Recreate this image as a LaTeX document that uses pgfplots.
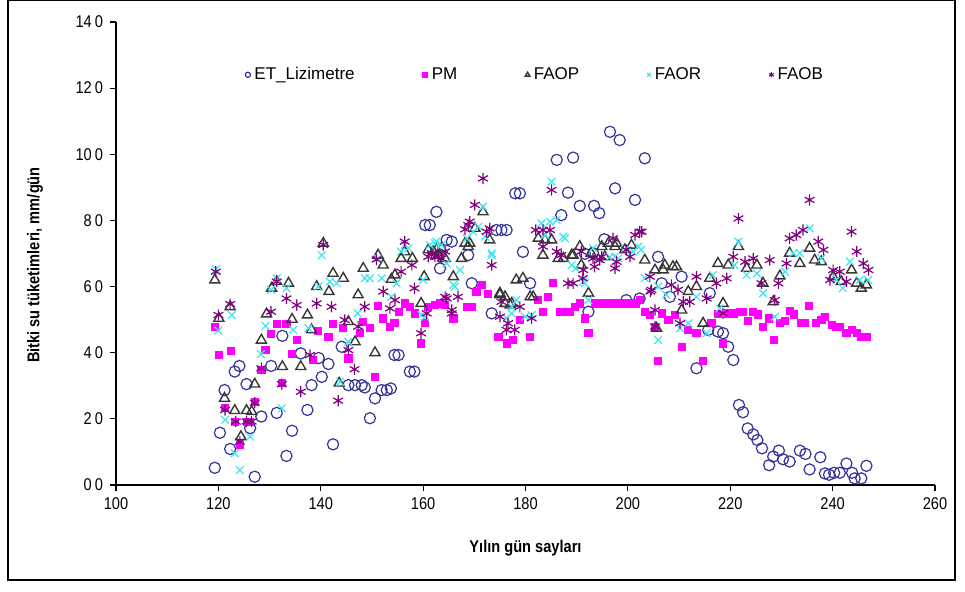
\documentclass[border=0pt]{standalone}
\usepackage{fontspec}
\setmainfont{Liberation Sans}[FakeStretch=0.86]
\newfontfamily\legfont{Liberation Sans}
\usepackage{pgfplots}
\pgfplotsset{compat=1.18}
\definecolor{etc}{RGB}{51,51,153}
\definecolor{pmc}{RGB}{255,0,255}
\definecolor{faopc}{RGB}{55,55,55}
\definecolor{faorc}{RGB}{60,230,240}
\definecolor{faobc}{RGB}{128,0,128}
\begin{document}
\begin{tikzpicture}
\useasboundingbox (0,0) rectangle (482.5pt,295.5pt);
\draw[line width=0.6pt] (4pt,5.5pt) rectangle (477.5pt,295.2pt);
\begin{axis}[
  at={(58pt,53pt)}, anchor=south west,
  scale only axis, width=409.5pt, height=231.5pt,
  xmin=100, xmax=260, ymin=0, ymax=140,
  axis x line=bottom, axis y line=left,
  axis line style={-, line width=0.6pt},
  tick style={line width=0.6pt, black},
  tick align=outside, major tick length=3pt,
  xtick={100,120,...,260},
  ytick={0,20,...,140},
  yticklabels={0\kern1.5pt0,2\kern1.5pt0,4\kern1.5pt0,6\kern1.5pt0,8\kern1.5pt0,10\kern1.5pt0,12\kern1.5pt0,14\kern1.5pt0},
  /pgf/number format/assume math mode=true,
  /pgf/number format/1000 sep={},
  tick label style={font=\fontsize{8.5}{10}\selectfont},
  xlabel={Yılın gün sayları},
  ylabel={Bitki su tüketimleri, mm/gün},
  label style={font=\fontsize{8.5}{10}\selectfont\bfseries},
  xlabel style={at={(axis description cs:0.5,-0.136)}, anchor=center},
  ylabel style={at={(axis description cs:-0.099,0.475)}, anchor=center},
  legend columns=5,
  legend style={draw=none, fill=none, at={(axis description cs:0.513,0.886)}, anchor=center,
    font=\legfont\fontsize{8.5}{10}\selectfont,
    /tikz/every even column/.append style={column sep=32pt},
    /tikz/every odd column/.append style={column sep=0pt}},
  legend image code/.code={\draw[mark repeat=1,#1,mark size=1.3pt] plot coordinates {(0.08cm,0cm)};},
  clip=false,
]
\addplot[only marks, mark=o, mark size=2.8pt, draw=etc, line width=0.6pt] coordinates {
(119.3,5.2)(120.3,15.8)(121.2,28.7)(122.3,10.9)(123.2,34.3)(124.1,36.0)(125.5,30.5)(126.2,17.2)
(127.1,2.5)(128.4,20.7)(130.3,36.0)(131.4,21.8)(132.5,45.1)(133.3,8.8)(134.4,16.4)(136.1,39.8)
(137.4,22.7)(138.2,30.2)(139.6,38.4)(140.2,32.7)(141.5,36.6)(142.4,12.3)(144.1,41.8)(145.4,30.2)
(146.7,30.2)(148.0,30.2)(148.6,29.5)(149.6,20.2)(150.6,26.2)(151.9,28.7)(152.9,28.7)(153.7,29.2)
(154.4,39.3)(155.2,39.3)(157.4,34.3)(158.3,34.3)(160.4,78.6)(161.3,78.6)(162.6,82.6)(163.3,65.5)
(164.6,74.1)(165.6,73.6)(168.8,69.5)(169.5,61.0)(173.4,51.9)(174.3,77.1)(175.3,77.1)(176.3,77.1)
(178.0,88.2)(178.9,88.2)(179.5,70.5)(180.9,61.0)(186.1,98.3)(187.0,81.6)(188.3,88.4)(189.3,99.0)
(190.6,84.4)(191.6,69.9)(192.3,52.4)(193.2,70.1)(193.4,84.4)(194.4,82.2)(195.4,74.3)(196.5,106.8)(197.5,89.7)
(198.4,104.3)(199.7,55.9)(201.4,86.2)(202.3,56.4)(203.3,98.8)(205.9,69.0)(206.6,61.0)(208.2,56.9)
(210.5,63.0)(213.4,35.3)(215.7,46.9)(216.0,58.0)(217.6,46.4)(218.6,45.9)(219.6,41.8)(220.6,37.8)
(221.7,24.2)(222.5,22.0)(223.4,17.1)(224.5,15.3)(225.3,13.6)(226.2,11.1)(227.6,6.0)(228.4,8.6)
(229.5,10.4)(230.3,7.8)(231.6,7.1)(233.6,10.4)(234.7,9.4)(235.5,4.7)(237.6,8.4)(238.5,3.5)
(239.3,3.1)(240.3,3.7)(241.4,3.7)(242.7,6.5)(243.8,3.7)(244.3,2.0)(245.6,2.0)(246.6,5.8)
};
\addlegendentry{ET\_Lizimetre}
\addplot[only marks, mark=square*, mark size=1.8pt, draw=pmc, fill=pmc] coordinates {
(119.3,47.7)(120.1,39.3)(121.2,23.2)(122.5,40.6)(123.2,19.2)(124.2,12.1)(125.5,19.2)(126.2,19.2)
(127.1,25.2)(128.4,34.8)(129.2,40.8)(130.3,45.7)(131.4,48.7)(132.4,30.8)(133.3,48.7)(134.4,39.6)
(135.3,43.8)(138.4,37.8)(139.4,46.7)(141.5,44.8)(142.4,48.7)(144.4,47.4)(145.4,38.3)(147.7,45.9)
(148.3,49.2)(149.6,47.4)(150.6,32.7)(151.2,54.2)(152.2,50.4)(153.5,47.9)(154.4,48.9)(155.2,52.4)
(156.4,54.9)(157.4,53.9)(158.4,51.9)(159.6,42.8)(160.4,48.9)(161.0,53.9)(162.3,54.4)(163.3,54.9)
(164.3,54.4)(165.9,50.4)(168.5,53.9)(169.5,53.9)(170.4,58.5)(171.4,60.5)(172.7,57.8)(174.7,44.8)
(176.3,42.8)(177.6,43.8)(178.9,49.9)(180.9,44.8)(182.5,55.9)(183.4,52.4)(184.4,56.9)(185.4,61.2)
(186.7,52.4)(187.4,52.4)(188.7,52.4)(189.6,53.9)(190.6,54.9)(191.6,50.4)(192.3,45.9)(193.6,54.9)
(194.6,54.9)(195.6,54.9)(196.6,54.9)(197.6,54.9)(198.6,54.9)(199.6,54.9)(200.6,54.9)(201.6,54.9)
(202.3,55.9)(203.3,52.4)(204.3,51.4)(205.3,47.9)(205.9,37.5)(206.6,51.9)(207.9,49.9)(209.2,51.4)
(210.5,41.8)(211.8,46.9)(213.4,46.1)(214.7,37.6)(216.3,48.9)(217.6,51.7)(218.6,42.8)(219.6,51.9)
(220.6,51.9)(221.9,52.4)(222.5,52.4)(223.5,49.7)(224.5,52.4)(225.4,51.6)(226.4,47.9)(227.5,50.4)
(228.6,43.8)(229.7,48.9)(230.7,49.7)(231.6,52.6)(232.5,51.6)(233.8,48.9)(234.6,48.9)(235.4,54.1)
(236.8,48.9)(237.8,49.9)(238.5,50.9)(239.8,48.4)(240.7,47.7)(241.4,47.7)(242.7,45.9)(243.7,46.9)
(244.7,45.9)(245.6,44.8)(246.6,44.8)
};
\addlegendentry{PM}
\addplot[only marks, mark=triangle, mark size=2.9pt, draw=faopc, line width=0.7pt] coordinates {
(119.3,62.0)(120.1,50.4)(121.2,26.2)(122.3,53.9)(123.2,22.5)(124.4,14.6)(125.5,22.5)(126.5,22.2)
(127.1,30.5)(128.4,43.8)(129.4,51.7)(130.4,59.5)(131.4,61.5)(132.5,35.8)(133.7,61.0)(134.4,50.1)
(136.1,35.8)(137.4,51.4)(138.2,46.9)(139.2,60.0)(140.5,73.1)(141.6,58.5)(142.4,64.0)(143.6,30.8)
(144.4,62.5)(145.4,49.4)(146.7,43.3)(147.3,57.5)(148.3,65.5)(150.6,40.0)(151.2,69.5)(152.2,66.5)
(153.8,62.2)(154.5,63.5)(155.7,68.5)(156.4,70.5)(157.9,68.5)(159.6,54.9)(160.2,63.0)(161.0,71.1)
(162.0,70.6)(162.6,71.1)(163.0,69.5)(163.6,71.6)(164.3,68.5)(165.9,63.0)(167.5,68.5)(168.2,73.1)(168.8,72.1)(169.1,73.1)(170.1,77.6)(171.7,82.6)
(173.0,74.1)(175.0,58.0)(175.0,57.5)(176.0,56.9)(176.0,54.9)(177.0,54.4)(177.3,54.9)(178.2,62.0)(179.5,62.5)(180.9,56.9)(181.5,56.9)(182.5,74.6)
(183.4,69.5)(183.8,74.1)(185.1,74.1)(186.4,68.5)(187.4,68.5)(189.0,69.5)(189.3,69.5)(190.6,72.1)(190.9,66.5)(192.3,58.0)(192.8,70.1)
(194.9,72.1)(195.5,69.0)(196.2,73.1)(197.5,72.1)(197.8,73.1)(199.4,71.1)(200.7,72.5)(203.3,68.0)(205.3,65.0)(205.6,47.4)(206.9,65.0)(207.2,66.5)
(208.8,66.0)(209.5,66.0)(210.5,52.9)(211.8,58.5)(213.4,60.0)(214.7,48.9)(216.0,62.5)(217.6,67.0)
(218.6,54.9)(219.6,66.5)(221.6,72.1)(223.2,65.5)(225.2,66.5)(226.4,61.0)(228.4,55.4)(229.7,63.2)
(231.6,70.1)(233.6,67.0)(235.5,71.6)(236.5,68.0)(237.8,67.5)(240.1,63.0)(241.7,61.5)(243.7,65.0)
(244.7,61.0)(245.6,59.5)(246.6,60.5)
};
\addlegendentry{FAOP}
\addplot[only marks, mark=x, mark size=2.7pt, draw=faorc, line width=0.6pt] coordinates {
(119.5,65.2)(120.0,46.7)(121.3,19.7)(122.6,51.4)(123.2,9.6)(124.2,4.5)(126.2,14.6)(128.3,39.6)
(129.2,48.1)(130.3,59.0)(131.4,62.5)(132.4,23.2)(133.3,59.5)(134.6,46.9)(137.6,47.4)(139.5,60.0)
(140.2,69.5)(141.8,61.5)(143.1,61.0)(143.8,31.2)(145.4,43.3)(147.2,51.9)(148.6,62.5)(149.6,62.5)
(151.1,68.5)(151.9,62.5)(153.8,56.9)(154.8,61.0)(155.7,70.6)(156.4,72.6)(157.1,71.6)(159.7,51.4)
(160.0,62.0)(160.4,50.9)(161.3,72.6)(162.3,73.1)(162.6,73.6)(163.6,72.6)(164.6,67.0)(165.9,60.5)(166.2,60.0)(167.2,65.0)(168.5,74.6)(169.8,76.6)(170.8,78.1)
(171.7,84.2)(172.1,75.1)(173.4,69.5)(173.4,70.1)(176.3,50.4)(177.3,53.9)(177.3,51.9)(178.2,55.9)(179.9,50.9)(181.2,51.4)(183.1,79.1)
(183.8,75.6)(184.8,79.6)(185.1,91.7)(186.1,80.1)(187.4,75.1)(187.7,74.6)(189.0,66.5)(189.8,65.5)(191.3,61.5)(191.6,61.0)(192.3,55.9)
(193.2,71.6)(196.5,69.0)(197.5,69.0)(198.1,68.5)(199.4,71.1)(201.0,70.6)(202.0,72.1)(202.6,71.1)(203.3,62.5)(205.9,43.8)(205.9,60.0)(207.5,57.5)(210.2,47.4)(211.8,48.9)
(213.4,56.9)(215.4,45.9)(216.6,63.5)(217.9,53.4)(220.8,66.5)(221.6,73.6)(223.2,63.5)(225.2,64.0)
(226.4,58.0)(228.7,50.9)(230.7,64.5)(232.3,70.1)(233.6,70.1)(235.5,77.6)(237.8,68.5)(240.7,62.0)
(242.0,59.5)(243.4,67.5)(245.3,62.0)(246.9,62.0)
};
\addlegendentry{FAOR}
\addplot[only marks, mark=asterisk, mark size=2.8pt, draw=faobc, line width=0.6pt] coordinates {
(119.5,64.5)(120.0,51.4)(121.3,22.7)(122.3,54.7)(123.4,19.2)(124.2,13.1)(125.5,19.2)(126.5,19.2)
(127.1,24.9)(128.4,35.3)(130.3,52.4)(131.4,61.5)(132.4,30.5)(133.3,56.4)(135.3,54.4)(136.1,28.2)
(137.9,39.3)(139.2,54.9)(140.5,72.6)(142.1,53.9)(143.4,25.5)(144.7,49.9)(145.4,40.8)(146.6,35.0)
(147.3,47.9)(148.6,53.9)(150.9,68.2)(152.2,58.5)(153.5,53.4)(154.5,55.9)(155.7,64.5)(156.4,73.6)
(157.8,66.5)(158.3,59.5)(159.6,45.9)(160.7,51.9)(161.0,69.0)(161.7,70.1)(162.3,69.0)(163.0,69.0)(163.6,68.5)(164.3,70.6)(164.3,56.9)(164.6,56.4)
(165.6,51.9)(165.6,52.9)(166.8,56.9)(168.2,77.3)(168.8,78.6)(169.1,79.6)(170.1,84.7)(171.7,92.7)(172.4,76.6)(173.0,77.6)(173.4,66.5)
(175.0,50.9)(175.3,55.4)(176.3,46.9)(176.6,48.9)(177.9,46.9)(178.9,53.9)(181.2,50.4)(182.0,77.1)(183.4,77.1)(183.4,72.1)
(184.8,77.1)(185.1,89.2)(186.1,70.6)(187.0,69.5)(188.3,61.0)(189.3,61.0)(190.9,70.6)(191.2,62.5)(191.3,65.0)(193.2,68.5)(193.5,66.0)(194.5,68.0)(194.9,69.0)
(197.1,74.6)(197.5,65.5)(197.8,67.5)(199.7,71.1)(200.4,69.0)(201.4,75.6)(202.3,76.6)(202.7,76.6)(204.3,63.0)(204.4,58.5)(204.6,59.0)(205.3,47.9)
(205.3,52.9)(208.5,60.5)(209.8,59.0)(210.2,48.9)(210.8,55.4)(212.1,55.4)(213.4,63.0)(215.4,56.4)
(217.3,61.0)(218.6,51.9)(219.3,62.5)(220.6,69.0)(221.6,80.6)(222.9,67.5)(224.5,68.5)(226.1,61.0)
(227.7,68.0)(228.7,55.9)(229.4,61.0)(231.0,67.0)(231.6,74.6)(232.9,75.6)(234.2,77.1)(235.5,86.2)
(237.2,73.6)(238.2,71.1)(239.5,62.0)(240.1,65.0)(241.4,64.5)(242.7,61.5)(243.7,76.6)(244.7,70.6)
(246.0,67.0)(247.0,65.0)
};
\addlegendentry{FAOB}
\end{axis}
\end{tikzpicture}
\end{document}
